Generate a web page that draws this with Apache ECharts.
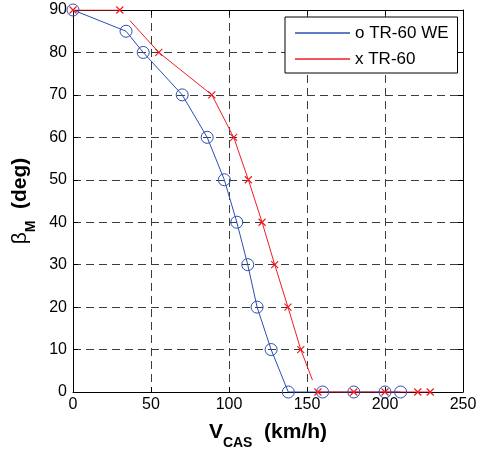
<!DOCTYPE html>
<html><head><meta charset="utf-8">
<script src="https://cdn.jsdelivr.net/npm/echarts@6/dist/echarts.min.js"></script>
<style>html,body{margin:0;padding:0;background:#fff}#c{width:480px;height:452px}</style>
</head><body><div id="c"></div>
<script>
// ---- data ----
const xTickMin = 0, xTickMax = 250, xTickStep = 50;
const yTickMin = 0, yTickMax = 90, yTickStep = 10;
const weName = 'o TR-60 WE';
const trName = 'x TR-60';
// TR-60 WE (circles)
const weX = [0, 34, 45, 70, 86, 97, 105, 112, 118, 127, 138, 160, 180, 200, 210];
const weY = [90, 85, 80, 70, 60, 50, 40, 30, 20, 10, 0, 0, 0, 0, 0];
// TR-60 (crosses), drawn as three separate pieces
const trTopX = [0, 30];
const trTopY = [90, 90];
const trMidX = [36.5, 55, 89, 103, 112.4, 121.2, 129.3, 137.8, 146, 153.5];
const trMidY = [87.5, 80, 70, 60, 50, 40, 30, 20, 10, 2.8];
const trMidMarked = [false, true, true, true, true, true, true, true, true, false];
const trBotX = [157, 180, 200, 221, 229];
const trBotY = [0, 0, 0, 0, 0];
const xTitle = ['V', 'CAS', '  (km/h)'];
const yTitle = ['β', 'M', '  (deg)'];

// ---- style ----
const BLUE = '#2d4fb2';
const RED = '#f01c24';
const FONT = '"Liberation Sans", Arial, Helvetica, sans-serif';
const CROSS = 'path://M0,0L10,10M10,0L0,10';

const pairs = (xs, ys) => xs.map((x, i) => [x, ys[i]]);

const richTitle = {
  a: {fontSize: 21, fontWeight: 'bold', fontFamily: FONT, color: '#000', padding: [0, 0, 11, 0]},
  g: {fontSize: 21, fontWeight: 'normal', fontFamily: FONT, color: '#000', padding: [0, 0, 11, 0]},
  s: {fontSize: 14, fontWeight: 'bold', fontFamily: FONT, color: '#000', padding: [11, 0, 0, 0]}
};

function baseAxis(extra) {
  return Object.assign({
    type: 'value',
    axisLine: {show: true, onZero: false, lineStyle: {color: '#000', width: 1}},
    axisTick: {show: true, inside: true, length: 5, lineStyle: {color: '#000', width: 1}},
    axisLabel: {fontSize: 16, color: '#000', fontFamily: FONT},
    splitLine: {show: false}
  }, extra);
}
const grid = {type: [8, 5], color: '#3c3c3c', width: 1};

const chart = echarts.init(document.getElementById('c'), null, {renderer: 'canvas'});
chart.setOption({
  animation: false,
  backgroundColor: '#fff',
  grid: {left: 73, right: 17, top: 10, bottom: 60, containLabel: false, outerBoundsMode: 'none'},
  xAxis: [
    baseAxis({min: xTickMin, max: xTickMax, interval: xTickStep, position: 'bottom',
      axisLabel: {fontSize: 16, color: '#000', fontFamily: FONT, margin: 5},
      splitLine: {show: true, lineStyle: grid},
      name: '{a|' + xTitle[0] + '}{s|' + xTitle[1] + '}{a|' + xTitle[2] + '}',
      nameLocation: 'middle', nameGap: 30,
      nameTextStyle: {rich: richTitle}}),
    baseAxis({min: xTickMin, max: xTickMax, interval: xTickStep, position: 'top',
      axisLabel: {show: false}})
  ],
  yAxis: [
    baseAxis({min: yTickMin, max: yTickMax, interval: yTickStep, position: 'left',
      axisLabel: {fontSize: 16, color: '#000', fontFamily: FONT, margin: 6},
      splitLine: {show: true, lineStyle: grid},
      name: '{g|' + yTitle[0] + '}{s|' + yTitle[1] + '}{a|' + yTitle[2] + '}',
      nameLocation: 'middle', nameGap: 29, nameRotate: 90,
      nameTextStyle: {rich: richTitle}}),
    baseAxis({min: yTickMin, max: yTickMax, interval: yTickStep, position: 'right',
      axisLabel: {show: false}})
  ],
  legend: {
    orient: 'vertical', left: 285, top: 17,
    backgroundColor: '#fff', borderColor: '#000', borderWidth: 1, borderRadius: 0,
    padding: [7, 9, 5, 10], itemGap: 8,
    itemWidth: 55, itemHeight: 1.5, icon: 'rect',
    textStyle: {fontSize: 17, color: '#000', fontFamily: FONT, lineHeight: 18},
    data: [
      {name: weName, itemStyle: {color: BLUE, borderWidth: 0}},
      {name: trName, itemStyle: {color: RED, borderWidth: 0}}
    ]
  },
  series: [
    {
      name: weName, type: 'line', data: pairs(weX, weY),
      symbol: 'circle', symbolSize: 12,
      itemStyle: {color: 'rgba(0,0,0,0)', borderColor: BLUE, borderWidth: 1},
      lineStyle: {color: BLUE, width: 1}, z: 3
    },
    {
      name: trName, type: 'line', data: pairs(trTopX, trTopY),
      symbol: CROSS, symbolSize: 7,
      itemStyle: {color: 'none', borderColor: RED, borderWidth: 1.2},
      lineStyle: {color: RED, width: 1}, z: 4
    },
    {
      name: trName, type: 'line',
      data: trMidX.map((x, i) => ({value: [x, trMidY[i]], symbol: trMidMarked[i] ? CROSS : 'none'})),
      symbol: CROSS, symbolSize: 7,
      itemStyle: {color: 'none', borderColor: RED, borderWidth: 1.2},
      lineStyle: {color: RED, width: 1}, z: 4
    },
    {
      name: trName, type: 'line', data: pairs(trBotX, trBotY),
      symbol: CROSS, symbolSize: 7,
      itemStyle: {color: 'none', borderColor: RED, borderWidth: 1.2},
      lineStyle: {color: RED, width: 1}, z: 4
    }
  ]
});
</script>
</body></html>
